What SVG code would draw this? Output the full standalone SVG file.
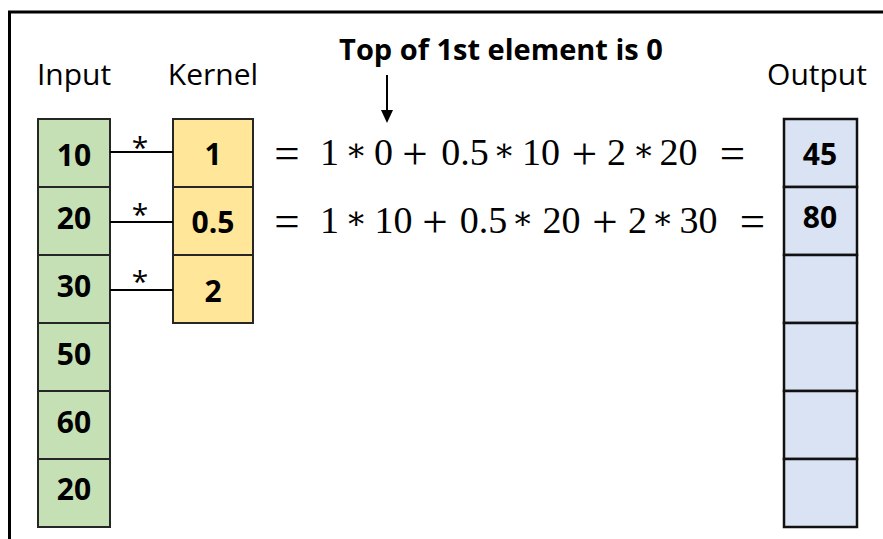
<svg xmlns="http://www.w3.org/2000/svg" width="883" height="539" viewBox="0 0 883 539">
  <defs>
    <style>
      .label { font-family: "Open Sans", "Liberation Sans", sans-serif; font-size: 30px; fill: #000; text-anchor: middle; }
      .num { font-family: "Open Sans", "Liberation Sans", sans-serif; font-size: 30px; font-weight: bold; fill: #000; text-anchor: middle; }
      .title { font-family: "Open Sans", "Liberation Sans", sans-serif; font-size: 29px; font-weight: bold; fill: #000; text-anchor: middle; }
      .star { font-family: "Open Sans", "Liberation Sans", sans-serif; font-size: 30px; fill: #000; text-anchor: middle; }
      .eq { font-family: "Liberation Serif", "DejaVu Serif", serif; font-size: 38px; fill: #000; text-anchor: middle; }
      .op { font-family: "Liberation Serif", "DejaVu Serif", serif; font-size: 45px; fill: #000; text-anchor: middle; }
      .ast { font-family: "DejaVu Serif", "Liberation Serif", serif; font-size: 32px; fill: #000; text-anchor: middle; }
      .in { fill: #C5E0B4; stroke: #262626; stroke-width: 2; }
      .ker { fill: #FFE699; stroke: #262626; stroke-width: 2; }
      .out { fill: #DAE3F3; stroke: #111; stroke-width: 2.5; }
      .wire { stroke: #000; stroke-width: 2; fill: none; }
    </style>
  </defs>
  <rect width="883" height="539" fill="#fff"/>

  <!-- outer frame (top and left edges only) -->
  <path d="M9.5 539 V12 H883" fill="none" stroke="#000" stroke-width="3"/>

  <!-- column headings -->
  <text class="label" x="74" y="85">Input</text>
  <text class="label" x="213" y="85">Kernel</text>
  <text class="label" x="817" y="85">Output</text>

  <!-- input column -->
  <g id="input">
    <rect class="in" x="38" y="119" width="72" height="68"/>
    <rect class="in" x="38" y="187" width="72" height="68"/>
    <rect class="in" x="38" y="255" width="72" height="68"/>
    <rect class="in" x="38" y="323" width="72" height="68"/>
    <rect class="in" x="38" y="391" width="72" height="68"/>
    <rect class="in" x="38" y="459" width="72" height="68"/>
    <text class="num" x="74" y="166">10</text>
    <text class="num" x="74" y="229">20</text>
    <text class="num" x="74" y="297">30</text>
    <text class="num" x="74" y="365">50</text>
    <text class="num" x="74" y="433">60</text>
    <text class="num" x="74" y="500">20</text>
  </g>

  <!-- kernel column -->
  <g id="kernel">
    <rect class="ker" x="173" y="119" width="80" height="68"/>
    <rect class="ker" x="173" y="187" width="80" height="68"/>
    <rect class="ker" x="173" y="255" width="80" height="68"/>
    <text class="num" x="213" y="165">1</text>
    <text class="num" x="213" y="233">0.5</text>
    <text class="num" x="213" y="302">2</text>
  </g>

  <!-- output column -->
  <g id="output">
    <rect class="out" x="784" y="119" width="73" height="68"/>
    <rect class="out" x="784" y="187" width="73" height="68"/>
    <rect class="out" x="784" y="255" width="73" height="68"/>
    <rect class="out" x="784" y="323" width="73" height="68"/>
    <rect class="out" x="784" y="391" width="73" height="68"/>
    <rect class="out" x="784" y="459" width="73" height="68"/>
    <text class="num" x="820" y="165">45</text>
    <text class="num" x="820" y="228">80</text>
  </g>

  <!-- multiplication links between input and kernel -->
  <g id="connectors">
    <line class="wire" x1="110" y1="152" x2="173" y2="152"/>
    <line class="wire" x1="110" y1="222" x2="173" y2="222"/>
    <line class="wire" x1="110" y1="290" x2="173" y2="290"/>
    <text class="star" x="140" y="158">*</text>
    <text class="star" x="140" y="225">*</text>
    <text class="star" x="140" y="292">*</text>
    <line class="wire" x1="387" y1="75" x2="387" y2="112"/>
    <polygon points="381,110 393,110 387,123" fill="#000"/>
  </g>

  <!-- annotation -->
  <g id="note">
    <text class="title" x="501" y="60">Top of 1st element is 0</text>
  </g>

  <!-- equations -->
  <g id="equations">
    <text class="op" x="287" y="168">=</text>
    <text class="eq" x="329.5" y="165">1</text>
    <text class="ast" x="356" y="161">∗</text>
    <text class="eq" x="383.5" y="165">0</text>
    <text class="op" x="415" y="169">+</text>
    <text class="eq" x="465" y="165">0.5</text>
    <text class="ast" x="504" y="161">∗</text>
    <text class="eq" x="541" y="165">10</text>
    <text class="op" x="584.5" y="169">+</text>
    <text class="eq" x="616.5" y="165">2</text>
    <text class="ast" x="643.5" y="161">∗</text>
    <text class="eq" x="678.5" y="165">20</text>
    <text class="op" x="732.5" y="168">=</text>

    <text class="op" x="287" y="236">=</text>
    <text class="eq" x="329.5" y="233">1</text>
    <text class="ast" x="356" y="229">∗</text>
    <text class="eq" x="393.5" y="233">10</text>
    <text class="op" x="435" y="237">+</text>
    <text class="eq" x="483.5" y="233">0.5</text>
    <text class="ast" x="522.5" y="229">∗</text>
    <text class="eq" x="561.5" y="233">20</text>
    <text class="op" x="605" y="237">+</text>
    <text class="eq" x="637.5" y="233">2</text>
    <text class="ast" x="662.5" y="229">∗</text>
    <text class="eq" x="698.5" y="233">30</text>
    <text class="op" x="752.5" y="236">=</text>
  </g>
</svg>
